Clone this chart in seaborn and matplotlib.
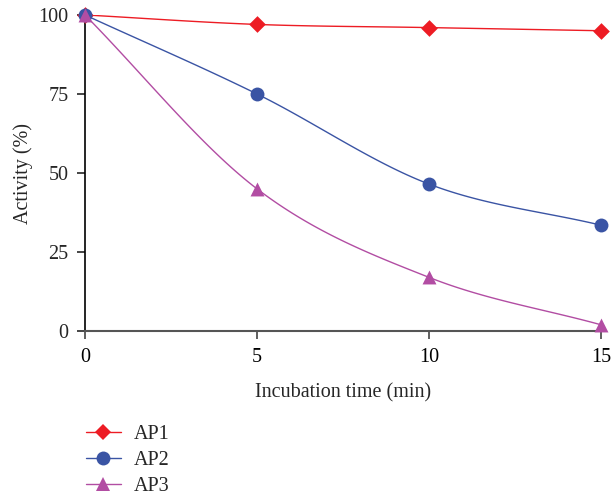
import numpy as np
import pandas as pd
import matplotlib
matplotlib.use("Agg")
import matplotlib.pyplot as plt
from matplotlib.lines import Line2D
import seaborn as sns

time_min = [0, 5, 10, 15]
ap1 = [100, 97, 96, 95]
ap2 = [100, 75, 46.5, 33.5]
ap3 = [100, 45, 17, 2]

series_names = ["AP1", "AP2", "AP3"]
colors = {"AP1": "#ED1C24", "AP2": "#3A54A4", "AP3": "#B24DA3"}
markers = {"AP1": "D", "AP2": "o", "AP3": "^"}
msizes = {"AP1": 8.5, "AP2": 10, "AP3": 10}

sns.set_theme(style="white")
plt.rcParams["font.family"] = ["Liberation Serif", "DejaVu Serif"]
FS = 14.5


def catmull_rom(x, y, n=40):
    """Smooth curve through the given points (Catmull-Rom spline)."""
    x = np.asarray(x, float)
    y = np.asarray(y, float)
    px = np.concatenate([[2 * x[0] - x[1]], x, [2 * x[-1] - x[-2]]])
    py = np.concatenate([[2 * y[0] - y[1]], y, [2 * y[-1] - y[-2]]])
    xs, ys = [], []
    t = np.linspace(0, 1, n)
    for i in range(1, len(px) - 2):
        for arr, out in ((px, xs), (py, ys)):
            p0, p1, p2, p3 = arr[i - 1], arr[i], arr[i + 1], arr[i + 2]
            seg = 0.5 * ((2 * p1) + (-p0 + p2) * t
                         + (2 * p0 - 5 * p1 + 4 * p2 - p3) * t ** 2
                         + (-p0 + 3 * p1 - 3 * p2 + p3) * t ** 3)
            out.append(seg if i == 1 else seg[1:])
    return np.concatenate(xs), np.concatenate(ys)


points = pd.DataFrame({
    "time": time_min * 3,
    "activity": ap1 + ap2 + ap3,
    "series": [s for s in series_names for _ in time_min],
})

fig = plt.figure(figsize=(6.11, 4.98), dpi=100)
ax = fig.add_axes([0.139, 0.335, 0.845, 0.635])

for name in series_names:
    sub = points[points["series"] == name]
    cx, cy = catmull_rom(sub["time"], sub["activity"])
    curve = pd.DataFrame({"time": cx, "activity": cy})
    sns.lineplot(data=curve, x="time", y="activity", ax=ax, color=colors[name],
                 linewidth=1.0, sort=False, estimator=None, legend=False)
    sns.scatterplot(data=sub, x="time", y="activity", ax=ax, color=colors[name],
                    marker=markers[name], s=msizes[name] ** 2, edgecolor=colors[name],
                    linewidth=0, legend=False, zorder=5, clip_on=False)

ax.set_xlim(0, 15)
ax.set_ylim(0, 100)
ax.set_xticks([0, 5, 10, 15])
ax.set_yticks([0, 25, 50, 75, 100])
ax.set_xlabel("Incubation time (min)", fontsize=FS, labelpad=12)
ax.set_ylabel("Activity (%)", fontsize=FS, labelpad=4)
ax.tick_params(axis="both", labelsize=FS, direction="out", length=6, width=1.2,
               bottom=True, left=True)
ax.tick_params(axis="y", pad=6)
ax.tick_params(axis="x", pad=6, colors="#444444", labelcolor="black")
for side in ("top", "right"):
    ax.spines[side].set_visible(False)
ax.spines["left"].set_color("black")
ax.spines["left"].set_linewidth(1.2)
ax.spines["bottom"].set_color("#555555")
ax.spines["bottom"].set_linewidth(1.5)

handles = [Line2D([0], [0], color=colors[n], marker=markers[n],
                  markersize=msizes[n], linewidth=1.0, markeredgewidth=0)
           for n in series_names]
fig.legend(handles, series_names, loc="upper left", bbox_to_anchor=(0.14, 0.147),
           frameon=False, fontsize=FS, handlelength=1.75, handletextpad=0.65,
           labelspacing=0.34, borderaxespad=0, borderpad=0)

fig.savefig("out.png", dpi=100)
